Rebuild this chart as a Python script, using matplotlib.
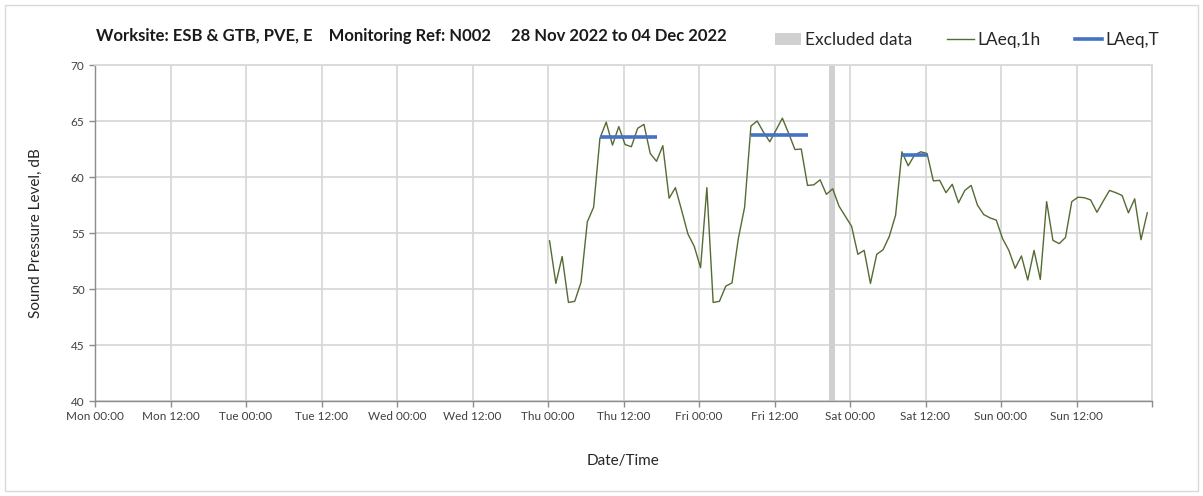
import numpy as np
import pandas as pd
import matplotlib
matplotlib.use("Agg")
import matplotlib.pyplot as plt
import matplotlib.dates as mdates
from matplotlib.lines import Line2D
from matplotlib.patches import Patch, Rectangle

plt.rcParams['font.family'] = ['Lato', 'DejaVu Sans']

# hourly LAeq,1h from Thu 01 Dec 00:15 onwards
start_time = "2022-12-01 00:15"
laeq_1h = [
    54.3, 50.5, 52.9, 48.8, 48.9, 50.6, 56.0, 57.3, 63.45, 64.9,
    62.85, 64.5, 62.9, 62.7, 64.35, 64.7, 62.1, 61.4, 62.8, 58.1,
    59.05, 57.0, 54.9, 53.8, 51.9, 59.05, 48.8, 48.9, 50.25, 50.55,
    54.5, 57.3, 64.55, 65.0, 64.0, 63.15, 64.2, 65.25, 63.9, 62.45,
    62.5, 59.25, 59.3, 59.75, 58.45, 58.95, 57.4, 56.5, 55.6, 53.1,
    53.45, 50.5, 53.1, 53.5, 54.7, 56.6, 62.25, 61.0, 61.95, 62.25,
    62.1, 59.65, 59.7, 58.6, 59.35, 57.7, 58.8, 59.25, 57.5, 56.65,
    56.35, 56.15, 54.5, 53.45, 51.85, 52.95, 50.8, 53.45, 50.85, 57.8,
    54.35, 54.05, 54.6, 57.8, 58.2, 58.15, 57.95, 56.85, 57.85, 58.8,
    58.6, 58.35, 56.8, 58.05, 54.4, 56.8,
]

# LAeq,T over each working period
period_start = ["2022-12-01 08:15", "2022-12-02 08:15", "2022-12-03 08:15"]
period_end = ["2022-12-01 17:15", "2022-12-02 17:15", "2022-12-03 12:15"]
laeq_t = [63.55, 63.75, 61.95]

excluded_start = "2022-12-02 20:40"
excluded_end = "2022-12-02 21:40"

week_start = "2022-11-28 00:00"
week_end = "2022-12-05 00:00"

title = ("Worksite: ESB & GTB, PVE, E    Monitoring Ref: N002     "
         "28 Nov 2022 to 04 Dec 2022")

times = pd.date_range(start_time, periods=len(laeq_1h), freq="h")

fig = plt.figure(figsize=(12.03, 4.96), dpi=100)
ax = fig.add_axes([95 / 1203, 1 - 401 / 496, (1152 - 95) / 1203, (401 - 65) / 496])

grid_c = "#d9d9d9"
axis_c = "#8c8c8c"
green = "#546b33"
blue = "#4472c4"

ax.axvspan(pd.Timestamp(excluded_start), pd.Timestamp(excluded_end),
           color="#d0d0d0", lw=0, zorder=1)
ax.plot(times, laeq_1h, color=green, lw=1.0, zorder=3)
for s, e, v in zip(period_start, period_end, laeq_t):
    ax.plot([pd.Timestamp(s), pd.Timestamp(e)], [v, v], color=blue, lw=2.6,
            solid_capstyle="butt", zorder=4)

ax.set_xlim(pd.Timestamp(week_start), pd.Timestamp(week_end))
ax.set_ylim(40, 70)
ax.set_yticks(np.arange(40, 71, 5))
ax.xaxis.set_major_locator(mdates.HourLocator(byhour=[0, 12]))
end_num = mdates.date2num(pd.Timestamp(week_end))
day_fmt = mdates.DateFormatter("%a %H:%M")
ax.xaxis.set_major_formatter(
    plt.FuncFormatter(lambda x, pos: "" if x >= end_num - 1e-6 else day_fmt(x, pos)))

ax.grid(True, color=grid_c, lw=1.3, zorder=0)
ax.set_axisbelow(True)
for side in ("top", "right"):
    ax.spines[side].set_color(grid_c)
    ax.spines[side].set_linewidth(1.3)
for side in ("left", "bottom"):
    ax.spines[side].set_color(axis_c)
    ax.spines[side].set_linewidth(1.0)
ax.tick_params(axis="both", colors=axis_c, labelcolor="#404040",
               labelsize=8.5, length=4, width=1)

ax.set_ylabel("Sound Pressure Level, dB", fontsize=11, color="#262626", labelpad=20)
ax.set_xlabel("Date/Time", fontsize=11, color="#262626", labelpad=23)

fig.text(96 / 1203, 1 - 36 / 496, title, fontsize=12, fontweight="bold",
         ha="left", va="center", color="#1a1a1a")

handles = [
    Patch(facecolor="#d0d0d0", edgecolor="none"),
    Line2D([], [], color=green, lw=1.0),
    Line2D([], [], color=blue, lw=2.6),
]
labels = ["Excluded data", "LAeq,1h", "LAeq,T"]
fig.legend(handles, labels, loc="center", ncol=3, frameon=False,
           bbox_to_anchor=(967 / 1203, 1 - 40 / 496), fontsize=12.5,
           handlelength=1.55, handletextpad=0.2, columnspacing=2.0,
           labelcolor="#262626")

# light frame round the whole chart
fig.patches.append(Rectangle((5 / 1203, 5 / 496), 1 - 10 / 1203, 1 - 10 / 496,
                             transform=fig.transFigure, fill=False,
                             edgecolor=grid_c, lw=1.0))

fig.savefig("out.png", dpi=100)
